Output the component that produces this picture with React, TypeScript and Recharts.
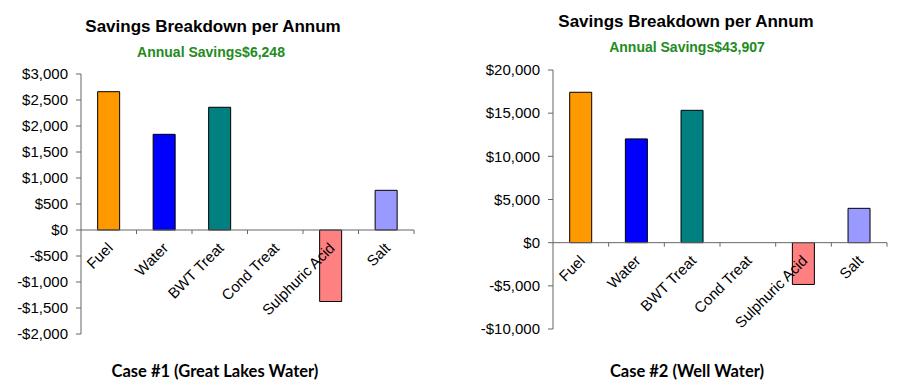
import React from 'react';
import { BarChart, Bar, XAxis, YAxis, Cell, ReferenceLine } from 'recharts';

const categories = ['Fuel', 'Water', 'BWT Treat', 'Cond Treat', 'Sulphuric Acid', 'Salt'];
const barColors = ['#FF9900', '#0000FF', '#008080', '#FFFFFF', '#FF8080', '#9999FF'];

const case1Values = [2660, 1840, 2360, 0, -1375, 763];
const case2Values = [17420, 12020, 15330, 0, -4840, 3977];

const case1Ticks = [-2000, -1500, -1000, -500, 0, 500, 1000, 1500, 2000, 2500, 3000];
const case2Ticks = [-10000, -5000, 0, 5000, 10000, 15000, 20000];

const font = '"Liberation Sans", Arial, sans-serif';
const axisColor = '#666666';

const money = (v: number) => (v < 0 ? '-' : '') + '$' + Math.abs(v).toLocaleString('en-US');

// zero line with category ticks and the rotated labels, placed where y = 0
const ZeroAxis = (props: any) => {
  const { x1, y1, x2 } = props;
  const n = categories.length;
  const step = (x2 - x1) / n;
  return (
    <g>
      <line x1={x1} y1={y1} x2={x2} y2={y1} stroke={axisColor} strokeWidth={1} />
      {categories.map((_, i) => (
        <line key={'t' + i} x1={x1 + (i + 1) * step} y1={y1} x2={x1 + (i + 1) * step} y2={y1 + 4} stroke={axisColor} />
      ))}
      {categories.map((c, i) => {
        const tx = x1 + (i + 0.5) * step + 5;
        const ty = y1 + 19;
        return (
          <text
            key={c}
            x={tx}
            y={ty}
            textAnchor="end"
            transform={`rotate(-45 ${tx} ${ty})`}
            fontSize={15}
            fontFamily={font}
            fill="#000"
          >
            {c}
          </text>
        );
      })}
    </g>
  );
};

interface ChartProps {
  values: number[];
  ticks: number[];
  margin: { top: number; right: number; bottom: number; left: number };
  yWidth: number;
}

const SavingsChart: React.FC<ChartProps> = ({ values, ticks, margin, yWidth }) => {
  const data = categories.map((name, i) => ({ name, value: values[i] }));
  return (
    <BarChart width={450} height={392} data={data} margin={margin} barCategoryGap="30%">
      <XAxis dataKey="name" hide />
      <YAxis
        width={yWidth}
        domain={[ticks[0], ticks[ticks.length - 1]]}
        ticks={ticks}
        interval={0}
        tickFormatter={money}
        tickSize={5}
        tickMargin={8}
        stroke={axisColor}
        tick={{ fill: '#000', fontSize: 15, fontFamily: font }}
      />
      <Bar dataKey="value" stroke="#000" strokeWidth={1} isAnimationActive={false}>
        {data.map((d, i) => (
          <Cell key={d.name} fill={barColors[i]} />
        ))}
      </Bar>
      <ReferenceLine y={0} shape={ZeroAxis} />
    </BarChart>
  );
};

const textBox = (left: number, top: number, size: number, color: string, family: string): React.CSSProperties => ({
  position: 'absolute',
  left,
  top,
  width: 300,
  lineHeight: '20px',
  textAlign: 'center',
  fontSize: size,
  fontWeight: 'bold',
  color,
  fontFamily: family,
  whiteSpace: 'nowrap',
});

const captionFont = 'Lato, "Open Sans", sans-serif';

const App: React.FC = () => {
  return (
    <div style={{ position: 'absolute', left: 0, top: 0, width: 900, height: 392, background: '#fff', overflow: 'hidden' }}>
      <div style={{ position: 'absolute', left: 0, top: 0 }}>
        <SavingsChart values={case1Values} ticks={case1Ticks} margin={{ top: 74, right: 36, bottom: 58, left: 0 }} yWidth={81} />
      </div>
      <div style={{ position: 'absolute', left: 450, top: 0 }}>
        <SavingsChart values={case2Values} ticks={case2Ticks} margin={{ top: 70, right: 13, bottom: 63, left: 0 }} yWidth={103} />
      </div>

      <div style={textBox(63, 17, 17, '#000', font)}>Savings Breakdown per Annum</div>
      <div style={textBox(61, 42, 14, '#228B22', font)}>Annual Savings$6,248</div>
      <div style={textBox(65, 361, 16.5, '#000', captionFont)}>Case #1 (Great Lakes Water)</div>

      <div style={textBox(536, 12, 17, '#000', font)}>Savings Breakdown per Annum</div>
      <div style={textBox(537, 37, 14, '#228B22', font)}>Annual Savings$43,907</div>
      <div style={textBox(537, 361, 16.5, '#000', captionFont)}>Case #2 (Well Water)</div>
    </div>
  );
};

export default App;
